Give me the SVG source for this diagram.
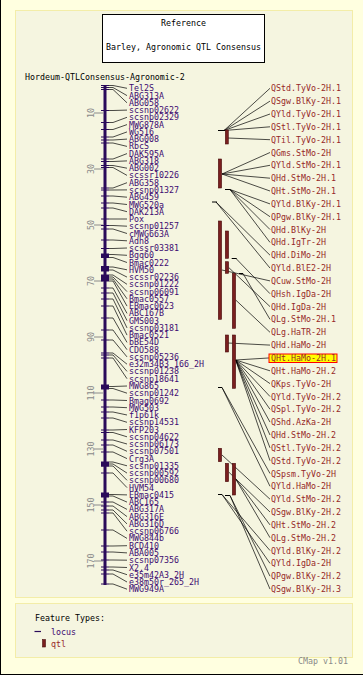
<svg xmlns="http://www.w3.org/2000/svg" width="363" height="675" viewBox="0 0 363 675">
<style>
text{font-family:"DejaVu Sans Mono","Liberation Mono",monospace;font-size:8.3px}
.t{fill:#000}
.lt{fill:#3c0a70}
.rt{fill:#962828}
.sc{fill:#8a8a8a}
.f{stroke:#2a0a5a;stroke-width:1}
.bar{fill:#7a1f1f;stroke:#4a0f0f;stroke-width:0.6}
.pt{stroke:#000;stroke-width:1}
.c{fill:none;stroke:#000;stroke-width:0.7}
.panel{fill:#f5f5e0;stroke:#f3eda8;stroke-width:1}
</style>
<rect x="0" y="0" width="363" height="675" fill="#ffffe0"/>
<line x1="0.5" y1="0" x2="0.5" y2="675" stroke="#000"/>
<line x1="0" y1="674.5" x2="363" y2="674.5" stroke="#000"/>
<rect class="panel" x="15.5" y="10.5" width="337" height="587"/>
<rect class="panel" x="15.5" y="603.5" width="337" height="54"/>
<g id="title">
<rect x="102.5" y="14.5" width="162" height="48" fill="#fff" stroke="#000"/>
<text class="t" x="183.5" y="26" text-anchor="middle">Reference</text>
<text class="t" x="183.5" y="49.5" text-anchor="middle">Barley, Agronomic QTL Consensus</text>
</g>
<text class="t" x="25" y="80">Hordeum-QTLConsensus-Agronomic-2</text>
<g id="scale" stroke="#8a8a8a">
<line x1="94" x2="103" y1="113" y2="113"/><line x1="94" x2="103" y1="169" y2="169"/><line x1="94" x2="103" y1="225" y2="225"/><line x1="94" x2="103" y1="281" y2="281"/><line x1="94" x2="103" y1="337" y2="337"/><line x1="94" x2="103" y1="393" y2="393"/><line x1="94" x2="103" y1="449" y2="449"/><line x1="94" x2="103" y1="505" y2="505"/><line x1="94" x2="103" y1="561" y2="561"/>
</g>
<g id="scaletext" stroke="none">
<text class="sc" transform="translate(93.5,113) rotate(-90)" text-anchor="middle">10</text>
<text class="sc" transform="translate(93.5,169) rotate(-90)" text-anchor="middle">30</text>
<text class="sc" transform="translate(93.5,225) rotate(-90)" text-anchor="middle">50</text>
<text class="sc" transform="translate(93.5,281) rotate(-90)" text-anchor="middle">70</text>
<text class="sc" transform="translate(93.5,337) rotate(-90)" text-anchor="middle">90</text>
<text class="sc" transform="translate(93.5,393) rotate(-90)" text-anchor="middle">110</text>
<text class="sc" transform="translate(93.5,449) rotate(-90)" text-anchor="middle">130</text>
<text class="sc" transform="translate(93.5,505) rotate(-90)" text-anchor="middle">150</text>
<text class="sc" transform="translate(93.5,561) rotate(-90)" text-anchor="middle">170</text>
</g>
<g id="chromosome"><line x1="105" y1="85" x2="105" y2="585" stroke="#2a0a5a" stroke-width="3"/></g>
<g id="connectors">
<path class="c" d="M109 85.5L113 85.5L127 88.3M109 87.5L113 87.5L127 95.6M109 89.5L113 89.5L127 102.8M109 110.5L113 110.5L127 110.1M109 122.5L113 122.5L127 117.3M109 129.5L113 129.5L127 124.6M109 137L113 137L127 131.9M109 140L113 140L127 139.1M109 143L113 143L127 146.4M109 159L113 159L127 153.6M109 161.5L113 161.5L127 160.9M109 165.5L113 165.5L127 168.2M109 167.5L113 167.5L127 175.4M109 188L113 188L127 182.7M109 190L113 190L127 189.9M109 196L113 196L127 197.2M109 203L113 203L127 204.5M109 208L113 208L127 211.7M109 219L113 219L127 219M109 225.5L113 225.5L127 226.2M109 229L113 229L127 233.5M109 240L113 240L127 240.8M109 248.5L113 248.5L127 248M109 254.5L113 254.5L127 255.3M109 257.5L113 257.5L127 262.5M109 267L113 267L127 269.8M109 270L113 270L127 277.1M109 275L113 275L127 284.3M109 277L113 277L127 291.6M109 279L113 279L127 298.8M109 281L113 281L127 306.1M109 288L113 288L127 313.4M109 293L113 293L127 320.6M109 299L113 299L127 327.9M109 306L113 306L127 335.1M109 318L113 318L127 342.4M109 330L113 330L127 349.7M109 340L113 340L127 356.9M109 353L113 353L127 364.2M109 355L113 355L127 371.4M109 358L113 358L127 378.7M109 386.5L113 386.5L127 386M109 388.5L113 388.5L127 393.2M109 400L113 400L127 400.5M109 407L113 407L127 407.7M109 412L113 412L127 415M109 418L113 418L127 422.3M109 430L113 430L127 429.5M109 432.5L113 432.5L127 436.8M109 440L113 440L127 444M109 445L113 445L127 451.3M109 452L113 452L127 458.6M109 462L113 462L127 465.8M109 464L113 464L127 473.1M109 466L113 466L127 480.3M109 473L113 473L127 487.6M109 494.5L113 494.5L127 494.9M109 496L113 496L127 502.1M109 502L113 502L127 509.4M109 506L113 506L127 516.6M109 510L113 510L127 523.9M109 513L113 513L127 531.2M109 530L113 530L127 538.4M109 546L113 546L127 545.7M109 552L113 552L127 552.9M109 560L113 560L127 560.2M109 567L113 567L127 567.5M109 570L113 570L127 574.7M109 574L113 574L127 582M109 584L113 584L127 589.2"/>
<path class="c" d="M224 130.5L270 88.3M224 130.5L270 101.1M224 130.5L270 114M224 130.5L270 126.8M228 138L270 139.7M222 174L270 152.5M222 174L270 165.3M222 174L270 178.2M222 174L270 191M230 189.5L270 203.9M230 189.5L270 216.7M230 189.5L270 229.5M230 189.5L270 242.4M216 202L270 255.2M216 202L270 268.1M222 270L270 280.9M236 258.5L270 293.7M228.7 267.5L270 306.6M243 273.5L270 319.4M235.7 300L270 332.3M228 343L270 345.1M235.7 360L270 357.9M235.7 360L270 370.8M235.7 360L270 383.6M235.7 360L270 396.5M235.7 360L270 409.3M235.7 360L270 422.1M235.7 360L270 435M235.7 360L270 447.8M235.7 360L270 460.7M222 387.5L270 473.5M222 387.5L270 486.3M222 455L270 499.2M228.7 472L270 512M235.7 479L270 524.9M235.7 479L270 537.7M222 494.5L270 550.5M222 494.5L270 563.4M230 495.5L270 576.2M230 495.5L270 589.1"/>
</g>
<g id="left-loci">
<g id="Tel2S"><line class="f" x1="101" x2="109" y1="85.5" y2="85.5"/><text class="lt" x="129" y="91.3">Tel2S</text></g>
<g id="ABG313A"><line class="f" x1="101" x2="109" y1="87.5" y2="87.5"/><text class="lt" x="129" y="98.6">ABG313A</text></g>
<g id="ABG058"><line class="f" x1="101" x2="109" y1="89.5" y2="89.5"/><text class="lt" x="129" y="105.8">ABG058</text></g>
<g id="scsnp02622"><line class="f" x1="101" x2="109" y1="110.5" y2="110.5"/><text class="lt" x="129" y="113.1">scsnp02622</text></g>
<g id="scsnp02329"><line class="f" x1="101" x2="109" y1="122.5" y2="122.5"/><text class="lt" x="129" y="120.3">scsnp02329</text></g>
<g id="MWG878A"><line class="f" x1="101" x2="109" y1="129.5" y2="129.5"/><text class="lt" x="129" y="127.6">MWG878A</text></g>
<g id="WG516"><line class="f" x1="101" x2="109" y1="137" y2="137"/><text class="lt" x="129" y="134.9">WG516</text></g>
<g id="ABG008"><line class="f" x1="101" x2="109" y1="140" y2="140"/><text class="lt" x="129" y="142.1">ABG008</text></g>
<g id="RbcS"><line class="f" x1="101" x2="109" y1="143" y2="143"/><text class="lt" x="129" y="149.4">RbcS</text></g>
<g id="DAK595A"><line class="f" x1="101" x2="109" y1="159" y2="159"/><text class="lt" x="129" y="156.6">DAK595A</text></g>
<g id="ABG318"><line class="f" x1="101" x2="109" y1="161.5" y2="161.5"/><text class="lt" x="129" y="163.9">ABG318</text></g>
<g id="ABG002"><line class="f" x1="101" x2="109" y1="165.5" y2="165.5"/><text class="lt" x="129" y="171.2">ABG002</text></g>
<g id="scssr10226"><line class="f" x1="101" x2="109" y1="167.5" y2="167.5"/><text class="lt" x="129" y="178.4">scssr10226</text></g>
<g id="ABG358"><line class="f" x1="101" x2="109" y1="188" y2="188"/><text class="lt" x="129" y="185.7">ABG358</text></g>
<g id="scsnp01327"><line class="f" x1="101" x2="109" y1="190" y2="190"/><text class="lt" x="129" y="192.9">scsnp01327</text></g>
<g id="ABG459"><line class="f" x1="101" x2="109" y1="196" y2="196"/><text class="lt" x="129" y="200.2">ABG459</text></g>
<g id="MWG520a"><line class="f" x1="101" x2="109" y1="203" y2="203"/><text class="lt" x="129" y="207.5">MWG520a</text></g>
<g id="DAK213A"><line class="f" x1="101" x2="109" y1="208" y2="208"/><text class="lt" x="129" y="214.7">DAK213A</text></g>
<g id="Pox"><line class="f" x1="101" x2="109" y1="219" y2="219"/><text class="lt" x="129" y="222">Pox</text></g>
<g id="scsnp01257"><line class="f" x1="101" x2="109" y1="225.5" y2="225.5"/><text class="lt" x="129" y="229.2">scsnp01257</text></g>
<g id="cMWG663A"><line class="f" x1="101" x2="109" y1="229" y2="229"/><text class="lt" x="129" y="236.5">cMWG663A</text></g>
<g id="Adh8"><line class="f" x1="101" x2="109" y1="240" y2="240"/><text class="lt" x="129" y="243.8">Adh8</text></g>
<g id="scssr03381"><line class="f" x1="101" x2="109" y1="248.5" y2="248.5"/><text class="lt" x="129" y="251">scssr03381</text></g>
<g id="Bgq60"><rect x="101" y="253.5" width="8" height="4.5" fill="#2a0a5a"/><text class="lt" x="129" y="258.3">Bgq60</text></g>
<g id="Bmac0222"><line class="f" x1="101" x2="109" y1="257.5" y2="257.5"/><text class="lt" x="129" y="265.5">Bmac0222</text></g>
<g id="HVM50"><rect x="101" y="266" width="8" height="5.5" fill="#2a0a5a"/><text class="lt" x="129" y="272.8">HVM50</text></g>
<g id="scssr02236"><line class="f" x1="101" x2="109" y1="270" y2="270"/><text class="lt" x="129" y="280.1">scssr02236</text></g>
<g id="scsnp01222"><rect x="101" y="274.5" width="8" height="6.5" fill="#2a0a5a"/><text class="lt" x="129" y="287.3">scsnp01222</text></g>
<g id="scsnp06091"><line class="f" x1="101" x2="109" y1="277" y2="277"/><text class="lt" x="129" y="294.6">scsnp06091</text></g>
<g id="Bmac0557"><line class="f" x1="101" x2="109" y1="279" y2="279"/><text class="lt" x="129" y="301.8">Bmac0557</text></g>
<g id="EBmac0623"><line class="f" x1="101" x2="109" y1="281" y2="281"/><text class="lt" x="129" y="309.1">EBmac0623</text></g>
<g id="ABC167B"><line class="f" x1="101" x2="109" y1="288" y2="288"/><text class="lt" x="129" y="316.4">ABC167B</text></g>
<g id="GMS003"><line class="f" x1="101" x2="109" y1="293" y2="293"/><text class="lt" x="129" y="323.6">GMS003</text></g>
<g id="scsnp03181"><line class="f" x1="101" x2="109" y1="299" y2="299"/><text class="lt" x="129" y="330.9">scsnp03181</text></g>
<g id="Bmac0521"><line class="f" x1="101" x2="109" y1="306" y2="306"/><text class="lt" x="129" y="338.1">Bmac0521</text></g>
<g id="bBE54D"><line class="f" x1="101" x2="109" y1="318" y2="318"/><text class="lt" x="129" y="345.4">bBE54D</text></g>
<g id="CDO588"><line class="f" x1="101" x2="109" y1="330" y2="330"/><text class="lt" x="129" y="352.7">CDO588</text></g>
<g id="scsnp05236"><line class="f" x1="101" x2="109" y1="340" y2="340"/><text class="lt" x="129" y="359.9">scsnp05236</text></g>
<g id="e32m34B3_166_2H"><line class="f" x1="101" x2="109" y1="353" y2="353"/><text class="lt" x="129" y="367.2">e32m34B3_166_2H</text></g>
<g id="scsnp01238"><line class="f" x1="101" x2="109" y1="355" y2="355"/><text class="lt" x="129" y="374.4">scsnp01238</text></g>
<g id="scsnp18641"><line class="f" x1="101" x2="109" y1="358" y2="358"/><text class="lt" x="129" y="381.7">scsnp18641</text></g>
<g id="MWG865"><rect x="101" y="384.5" width="8" height="5" fill="#2a0a5a"/><text class="lt" x="129" y="389">MWG865</text></g>
<g id="scsnp01242"><line class="f" x1="101" x2="109" y1="388.5" y2="388.5"/><text class="lt" x="129" y="396.2">scsnp01242</text></g>
<g id="Bmag0692"><line class="f" x1="101" x2="109" y1="400" y2="400"/><text class="lt" x="129" y="403.5">Bmag0692</text></g>
<g id="MWG503"><line class="f" x1="101" x2="109" y1="407" y2="407"/><text class="lt" x="129" y="410.7">MWG503</text></g>
<g id="f1p61k"><line class="f" x1="101" x2="109" y1="412" y2="412"/><text class="lt" x="129" y="418">f1p61k</text></g>
<g id="scsnp14531"><line class="f" x1="101" x2="109" y1="418" y2="418"/><text class="lt" x="129" y="425.3">scsnp14531</text></g>
<g id="KFP203"><line class="f" x1="101" x2="109" y1="430" y2="430"/><text class="lt" x="129" y="432.5">KFP203</text></g>
<g id="scsnp04622"><line class="f" x1="101" x2="109" y1="432.5" y2="432.5"/><text class="lt" x="129" y="439.8">scsnp04622</text></g>
<g id="scsnp06173"><line class="f" x1="101" x2="109" y1="440" y2="440"/><text class="lt" x="129" y="447">scsnp06173</text></g>
<g id="scsnp07501"><line class="f" x1="101" x2="109" y1="445" y2="445"/><text class="lt" x="129" y="454.3">scsnp07501</text></g>
<g id="Crg3A"><line class="f" x1="101" x2="109" y1="452" y2="452"/><text class="lt" x="129" y="461.6">Crg3A</text></g>
<g id="scsnp01335"><rect x="101" y="461.5" width="8" height="5" fill="#2a0a5a"/><text class="lt" x="129" y="468.8">scsnp01335</text></g>
<g id="scsnp00592"><line class="f" x1="101" x2="109" y1="464" y2="464"/><text class="lt" x="129" y="476.1">scsnp00592</text></g>
<g id="scsnp00680"><line class="f" x1="101" x2="109" y1="466" y2="466"/><text class="lt" x="129" y="483.3">scsnp00680</text></g>
<g id="HVM54"><line class="f" x1="101" x2="109" y1="473" y2="473"/><text class="lt" x="129" y="490.6">HVM54</text></g>
<g id="EBmac0415"><rect x="101" y="492.5" width="8" height="5" fill="#2a0a5a"/><text class="lt" x="129" y="497.9">EBmac0415</text></g>
<g id="ABC165"><line class="f" x1="101" x2="109" y1="496" y2="496"/><text class="lt" x="129" y="505.1">ABC165</text></g>
<g id="ABG317A"><line class="f" x1="101" x2="109" y1="502" y2="502"/><text class="lt" x="129" y="512.4">ABG317A</text></g>
<g id="ABG316E"><line class="f" x1="101" x2="109" y1="506" y2="506"/><text class="lt" x="129" y="519.6">ABG316E</text></g>
<g id="ABG316D"><line class="f" x1="101" x2="109" y1="510" y2="510"/><text class="lt" x="129" y="526.9">ABG316D</text></g>
<g id="scsnp06766"><line class="f" x1="101" x2="109" y1="513" y2="513"/><text class="lt" x="129" y="534.2">scsnp06766</text></g>
<g id="MWG844b"><line class="f" x1="101" x2="109" y1="530" y2="530"/><text class="lt" x="129" y="541.4">MWG844b</text></g>
<g id="BCD410"><line class="f" x1="101" x2="109" y1="546" y2="546"/><text class="lt" x="129" y="548.7">BCD410</text></g>
<g id="ABA005"><line class="f" x1="101" x2="109" y1="552" y2="552"/><text class="lt" x="129" y="555.9">ABA005</text></g>
<g id="scsnp07356"><line class="f" x1="101" x2="109" y1="560" y2="560"/><text class="lt" x="129" y="563.2">scsnp07356</text></g>
<g id="X2.4"><line class="f" x1="101" x2="109" y1="567" y2="567"/><text class="lt" x="129" y="570.5">X2.4</text></g>
<g id="e35m42A3_2H"><line class="f" x1="101" x2="109" y1="570" y2="570"/><text class="lt" x="129" y="577.7">e35m42A3_2H</text></g>
<g id="e38m50r_265_2H"><line class="f" x1="101" x2="109" y1="574" y2="574"/><text class="lt" x="129" y="585">e38m50r_265_2H</text></g>
<g id="MWG949A"><line class="f" x1="101" x2="109" y1="584" y2="584"/><text class="lt" x="129" y="592.2">MWG949A</text></g>
</g>
<g id="qtls">
<g id="q-pt1"><line class="pt" x1="218" x2="225" y1="130.5" y2="130.5"/></g>
<g id="QStd.TyVo-2H.1"><text class="rt" x="271" y="91.3">QStd.TyVo-2H.1</text></g>
<g id="QSgw.BlKy-2H.1"><text class="rt" x="271" y="104.1">QSgw.BlKy-2H.1</text></g>
<g id="QYld.TyVo-2H.1"><text class="rt" x="271" y="117">QYld.TyVo-2H.1</text></g>
<g id="QStl.TyVo-2H.1"><text class="rt" x="271" y="129.8">QStl.TyVo-2H.1</text></g>
<g id="QTil.TyVo-2H.1"><rect class="bar" x="225.3" y="130" width="3" height="14"/><text class="rt" x="271" y="142.7">QTil.TyVo-2H.1</text></g>
<g id="QGms.StMo-2H"><rect class="bar" x="218.3" y="159" width="3.3" height="29"/><text class="rt" x="271" y="155.5">QGms.StMo-2H</text></g>
<g id="QYld.StMo-2H.1"><text class="rt" x="271" y="168.3">QYld.StMo-2H.1</text></g>
<g id="QHd.StMo-2H.1"><text class="rt" x="271" y="181.2">QHd.StMo-2H.1</text></g>
<g id="QHt.StMo-2H.1"><text class="rt" x="271" y="194">QHt.StMo-2H.1</text></g>
<g id="QYld.BlKy-2H.1"><line class="pt" x1="225" x2="230" y1="189.5" y2="189.5"/><text class="rt" x="271" y="206.9">QYld.BlKy-2H.1</text></g>
<g id="QPgw.BlKy-2H.1"><text class="rt" x="271" y="219.7">QPgw.BlKy-2H.1</text></g>
<g id="QHd.BlKy-2H"><text class="rt" x="271" y="232.5">QHd.BlKy-2H</text></g>
<g id="QHd.IgTr-2H"><rect class="bar" x="225.3" y="231" width="3.3" height="27.3"/><text class="rt" x="271" y="245.4">QHd.IgTr-2H</text></g>
<g id="QHd.DiMo-2H"><line class="pt" x1="212" x2="217" y1="202" y2="202"/><text class="rt" x="271" y="258.2">QHd.DiMo-2H</text></g>
<g id="QYld.BlE2-2H"><text class="rt" x="271" y="271.1">QYld.BlE2-2H</text></g>
<g id="QCuw.StMo-2H"><rect class="bar" x="218.3" y="221" width="3.3" height="98.3"/><text class="rt" x="271" y="283.9">QCuw.StMo-2H</text></g>
<g id="QHsh.IgDa-2H"><line class="pt" x1="231.7" x2="236.7" y1="258.5" y2="258.5"/><text class="rt" x="271" y="296.7">QHsh.IgDa-2H</text></g>
<g id="QHd.IgDa-2H"><rect class="bar" x="225.3" y="261.7" width="3.3" height="11.6"/><text class="rt" x="271" y="309.6">QHd.IgDa-2H</text></g>
<g id="QLg.StMo-2H.1"><line class="pt" x1="239" x2="243" y1="273.5" y2="273.5"/><text class="rt" x="271" y="322.4">QLg.StMo-2H.1</text></g>
<g id="QLg.HaTR-2H"><rect class="bar" x="232.3" y="273.3" width="3.3" height="55"/><text class="rt" x="271" y="335.3">QLg.HaTR-2H</text></g>
<g id="QHd.HaMo-2H"><rect class="bar" x="225.3" y="335" width="3.3" height="17"/><text class="rt" x="271" y="348.1">QHd.HaMo-2H</text></g>
<g id="QHt.HaMo-2H.1"><rect class="bar" x="232.3" y="335" width="3.3" height="53.3"/><rect x="269" y="354" width="68" height="8.5" fill="#ffff00" stroke="#ff0000" stroke-width="1"/><text class="rt" x="271" y="360.9">QHt.HaMo-2H.1</text></g>
<g id="QHt.HaMo-2H.2"><text class="rt" x="271" y="373.8">QHt.HaMo-2H.2</text></g>
<g id="QKps.TyVo-2H"><text class="rt" x="271" y="386.6">QKps.TyVo-2H</text></g>
<g id="QYld.TyVo-2H.2"><text class="rt" x="271" y="399.5">QYld.TyVo-2H.2</text></g>
<g id="QSpl.TyVo-2H.2"><text class="rt" x="271" y="412.3">QSpl.TyVo-2H.2</text></g>
<g id="QShd.AzKa-2H"><text class="rt" x="271" y="425.1">QShd.AzKa-2H</text></g>
<g id="QHd.StMo-2H.2"><text class="rt" x="271" y="438">QHd.StMo-2H.2</text></g>
<g id="QStl.TyVo-2H.2"><text class="rt" x="271" y="450.8">QStl.TyVo-2H.2</text></g>
<g id="QStd.TyVo-2H.2"><text class="rt" x="271" y="463.7">QStd.TyVo-2H.2</text></g>
<g id="QSpsm.TyVo-2H"><line class="pt" x1="218" x2="222" y1="387.5" y2="387.5"/><text class="rt" x="271" y="476.5">QSpsm.TyVo-2H</text></g>
<g id="QYld.HaMo-2H"><text class="rt" x="271" y="489.3">QYld.HaMo-2H</text></g>
<g id="QYld.StMo-2H.2"><rect class="bar" x="218.3" y="448.3" width="3.3" height="13.4"/><text class="rt" x="271" y="502.2">QYld.StMo-2H.2</text></g>
<g id="QSgw.BlKy-2H.2"><rect class="bar" x="225.3" y="463.3" width="3.3" height="18.4"/><text class="rt" x="271" y="515">QSgw.BlKy-2H.2</text></g>
<g id="QHt.StMo-2H.2"><rect class="bar" x="232.3" y="463.3" width="3.3" height="31.7"/><text class="rt" x="271" y="527.9">QHt.StMo-2H.2</text></g>
<g id="QLg.StMo-2H.2"><text class="rt" x="271" y="540.7">QLg.StMo-2H.2</text></g>
<g id="QYld.BlKy-2H.2"><line class="pt" x1="218" x2="222" y1="494.5" y2="494.5"/><text class="rt" x="271" y="553.5">QYld.BlKy-2H.2</text></g>
<g id="QYld.IgDa-2H"><text class="rt" x="271" y="566.4">QYld.IgDa-2H</text></g>
<g id="QPgw.BlKy-2H.2"><line class="pt" x1="225" x2="230" y1="495.5" y2="495.5"/><text class="rt" x="271" y="579.2">QPgw.BlKy-2H.2</text></g>
<g id="QSgw.BlKy-2H.3"><text class="rt" x="271" y="592.1">QSgw.BlKy-2H.3</text></g>
</g>
<g id="legend">
<text class="t" x="35" y="620.5">Feature Types:</text>
<line x1="34.5" x2="41" y1="631.5" y2="631.5" stroke="#2a0a5a" stroke-width="1.2"/>
<text class="lt" x="51" y="634.5">locus</text>
<rect class="bar" x="42.5" y="639.5" width="3" height="7.5"/>
<text class="rt" x="51" y="646.5">qtl</text>
<text class="sc" x="298" y="664">CMap v1.01</text>
</g>
</svg>
